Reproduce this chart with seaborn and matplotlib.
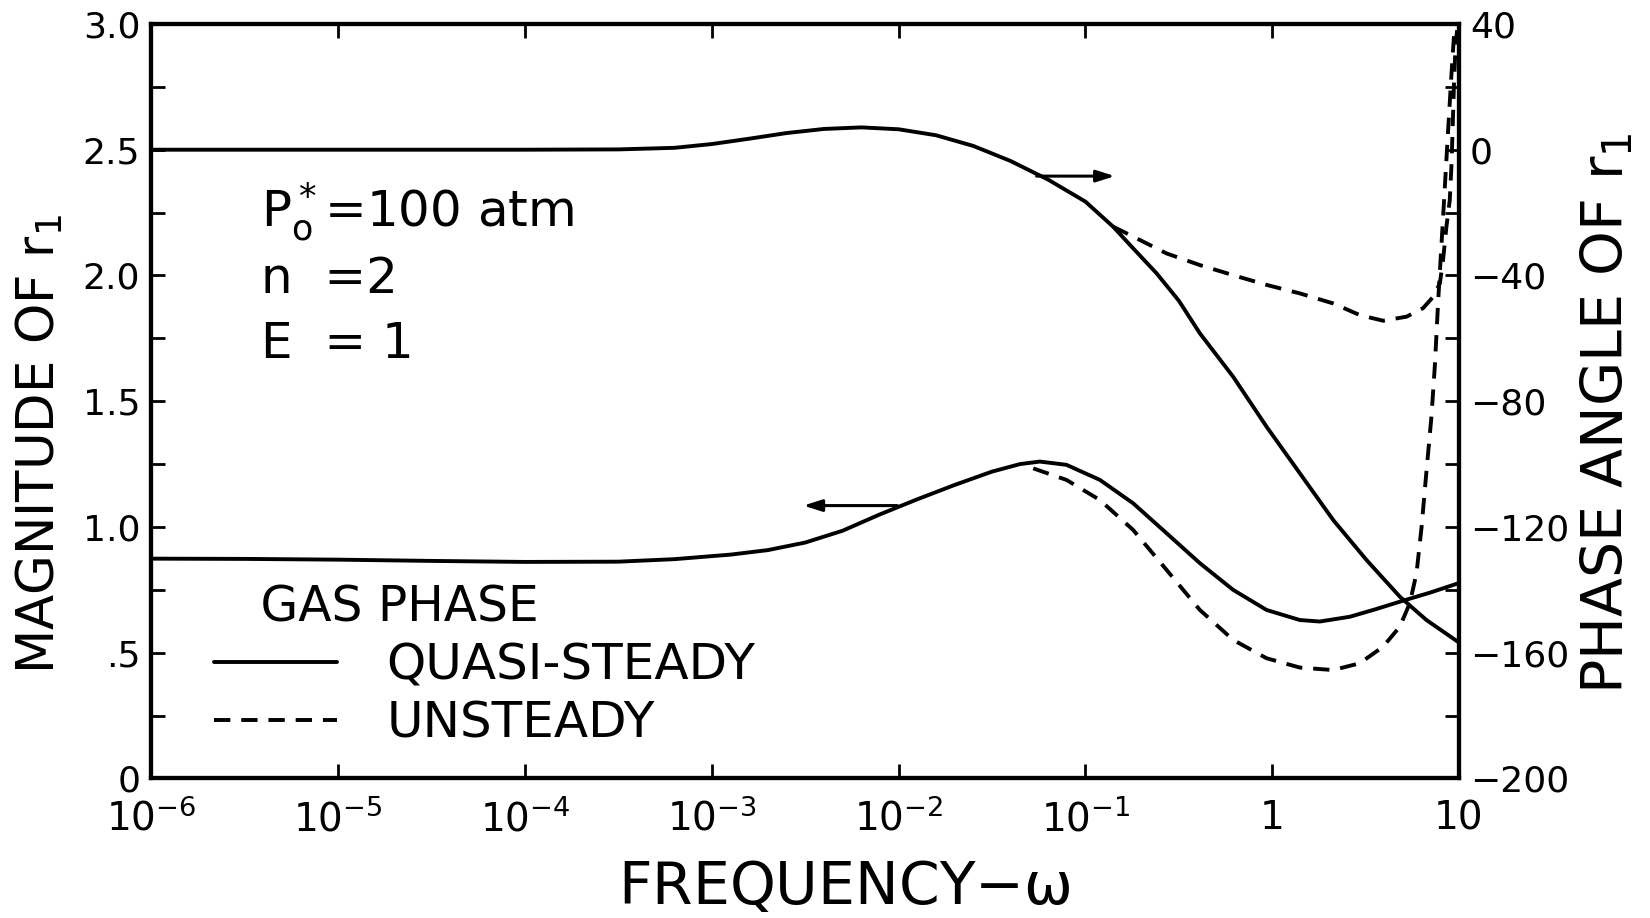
import numpy as np
import matplotlib
matplotlib.use("Agg")
import matplotlib.pyplot as plt
import seaborn as sns
from matplotlib.lines import Line2D
from matplotlib.ticker import FixedLocator, FixedFormatter, NullLocator, MultipleLocator

# ---------------- data ----------------
# quasi-steady magnitude  (log10 of frequency, magnitude)
qs_mag_logw = [-6.0, -5.5, -5.0, -4.5, -4.0, -3.5, -3.2, -2.9, -2.7, -2.5, -2.3, -2.1,
               -1.9, -1.7, -1.5, -1.35, -1.244, -1.101, -0.922, -0.744, -0.565, -0.387,
               -0.209, -0.03, 0.148, 0.255, 0.416, 0.55, 0.684, 0.85, 0.996]
qs_mag = [0.874, 0.873, 0.870, 0.865, 0.861, 0.862, 0.872, 0.890, 0.908, 0.938, 0.985, 1.050,
          1.110, 1.167, 1.220, 1.250, 1.260, 1.247, 1.187, 1.094, 0.975, 0.856,
          0.750, 0.670, 0.630, 0.624, 0.643, 0.672, 0.703, 0.740, 0.776]

# unsteady magnitude
us_mag_logw = [-1.279, -1.101, -0.922, -0.744, -0.565, -0.387, -0.209, -0.03, 0.148,
               0.327, 0.469, 0.594, 0.684, 0.737, 0.773, 0.80, 0.826, 0.853, 0.871,
               0.889, 0.915, 0.94, 0.96, 0.975]
us_mag = [1.233, 1.187, 1.107, 0.988, 0.829, 0.670, 0.551, 0.478, 0.441,
          0.431, 0.458, 0.524, 0.604, 0.697, 0.816, 1.00, 1.22, 1.44, 1.64,
          1.90, 2.23, 2.55, 2.80, 2.97]

# quasi-steady phase (deg)
qs_ph_logw = [-6.0, -5.0, -4.0, -3.5, -3.2, -3.0, -2.8, -2.6, -2.4, -2.2, -2.0, -1.8,
              -1.6, -1.4, -1.2, -1.0, -0.851, -0.75, -0.619, -0.5, -0.387, -0.209,
              -0.03, 0.148, 0.327, 0.505, 0.684, 0.826, 0.994]
qs_ph = [0.0, 0.0, 0.0, 0.1, 0.6, 1.8, 3.5, 5.3, 6.6, 7.1, 6.5, 4.6,
         1.2, -3.6, -9.5, -16.5, -24.5, -31.0, -39.3, -48.0, -58.4, -72.2,
         -88.1, -102.9, -117.8, -130.5, -142.2, -149.6, -156.5]

# unsteady phase (deg)
us_ph_logw = [-0.851, -0.779, -0.565, -0.387, -0.209, -0.03, 0.148, 0.327, 0.469, 0.594,
              0.72, 0.808, 0.862, 0.898, 0.915, 0.933, 0.951, 0.96, 0.967, 0.974,
              0.982, 0.99]
us_ph = [-24.5, -26.6, -33.0, -36.7, -39.9, -43.0, -45.7, -48.9, -52.6, -54.4,
         -53.1, -50.4, -46.8, -42.5, -35.1, -24.5, -16.0, -5.0, 8.0, 22.0,
         33.0, 38.0]

xtick_vals = [1e-6, 1e-5, 1e-4, 1e-3, 1e-2, 1e-1, 1, 10]
xtick_labels = [r'$\mathregular{10^{-6}}$', r'$\mathregular{10^{-5}}$', r'$\mathregular{10^{-4}}$',
                r'$\mathregular{10^{-3}}$', r'$\mathregular{10^{-2}}$', r'$\mathregular{10^{-1}}$',
                '1', '10']
ytick_vals = [0, 0.5, 1.0, 1.5, 2.0, 2.5, 3.0]
ytick_labels = ['0', '.5', '1.0', '1.5', '2.0', '2.5', '3.0']
y2tick_vals = [-200, -160, -120, -80, -40, 0, 40]
y2tick_labels = ['\u2212200', '\u2212160', '\u2212120', '\u221280', '\u221240', '0', '40']

# ---------------- style ----------------
sns.set_style("ticks")
plt.rcParams['font.family'] = ['DejaVu Sans']
plt.rcParams['mathtext.default'] = 'regular'
plt.rcParams['text.color'] = 'black'
plt.rcParams['xtick.color'] = 'black'
plt.rcParams['ytick.color'] = 'black'
plt.rcParams['xtick.labelcolor'] = 'black'
plt.rcParams['ytick.labelcolor'] = 'black'

LW = 2.8
DASH = (0, (4.2, 2.8))

fig = plt.figure(figsize=(16.5, 9.18), dpi=100)
ax = fig.add_axes([0.0918, 0.152, 0.7924, 0.8219])
ax2 = ax.twinx()

w = lambda lg: np.power(10.0, np.asarray(lg, dtype=float))

sns.lineplot(x=w(qs_mag_logw), y=qs_mag, ax=ax, color='black', lw=LW, estimator=None, sort=False)
sns.lineplot(x=w(us_mag_logw), y=us_mag, ax=ax, color='black', lw=LW, estimator=None, sort=False,
             linestyle=DASH)
sns.lineplot(x=w(qs_ph_logw), y=qs_ph, ax=ax2, color='black', lw=LW, estimator=None, sort=False)
sns.lineplot(x=w(us_ph_logw), y=us_ph, ax=ax2, color='black', lw=LW, estimator=None, sort=False,
             linestyle=DASH)
for a in (ax, ax2):
    for ln in a.lines:
        ln.set_solid_joinstyle('round')
        ln.set_dash_joinstyle('round')

ax.set_xscale('log')
ax.set_xlim(1e-6, 10)
ax.set_ylim(0, 3.0)
ax2.set_ylim(-200, 40)

ax.xaxis.set_major_locator(FixedLocator(xtick_vals))
ax.xaxis.set_major_formatter(FixedFormatter(xtick_labels))
ax.xaxis.set_minor_locator(NullLocator())
ax.yaxis.set_major_locator(FixedLocator(ytick_vals))
ax.yaxis.set_major_formatter(FixedFormatter(ytick_labels))
ax.yaxis.set_minor_locator(MultipleLocator(0.25))
ax2.yaxis.set_major_locator(FixedLocator(y2tick_vals))
ax2.yaxis.set_major_formatter(FixedFormatter(y2tick_labels))
ax2.yaxis.set_minor_locator(MultipleLocator(20))

ax.set_xlabel('')
ax.set_ylabel('')
ax2.set_ylabel('')

ax.tick_params(axis='x', which='both', direction='in', top=True, length=10, width=2,
               labelsize=28, pad=15, colors='black')
ax.tick_params(axis='y', which='both', direction='in', length=10, width=2,
               labelsize=26, pad=8, colors='black')
ax2.tick_params(axis='y', which='both', direction='in', length=10, width=2,
                labelsize=26, pad=8, colors='black')

for a in (ax, ax2):
    for s in a.spines.values():
        s.set_linewidth(3)
        s.set_color('black')

# arrows indicating which axis each curve belongs to
ax2.annotate('', xy=(10**-0.842, -8.4), xytext=(10**-1.261, -8.4),
             arrowprops=dict(arrowstyle='-|>,head_length=1.1,head_width=0.35',
                             color='black', lw=2.2, shrinkA=0, shrinkB=0))
ax.annotate('', xy=(10**-2.51, 1.085), xytext=(10**-2.007, 1.085),
            arrowprops=dict(arrowstyle='-|>,head_length=1.1,head_width=0.35',
                            color='black', lw=2.2, shrinkA=0, shrinkB=0))

# parameter annotations
ax.text(3.86e-6, 2.194, r'$\mathregular{P_o^*}$=100 atm', fontsize=36, va='baseline', color='black')
ax.text(3.86e-6, 1.929, 'n  =2', fontsize=36, va='baseline', color='black')
ax.text(3.86e-6, 1.671, 'E  = 1', fontsize=36, va='baseline', color='black')

# legend
handles = [Line2D([], [], color='black', lw=LW),
           Line2D([], [], color='black', lw=LW, linestyle=DASH)]
leg = ax.legend(handles, ['QUASI-STEADY', 'UNSTEADY'], title='   GAS PHASE',
                loc='upper left', bbox_to_anchor=(214 / 1650, 1 - 583 / 918),
                bbox_transform=fig.transFigure, frameon=False, fontsize=36,
                title_fontsize=35, handlelength=2.45, handletextpad=1.0,
                borderpad=0, borderaxespad=0, labelspacing=0.2)
leg._legend_box.align = 'left'
for t in leg.get_texts():
    t.set_color('black')
leg.get_title().set_color('black')

# axis labels
fig.text(0.0242, 0.5163, r'MAGNITUDE OF $\mathregular{r_1}$', rotation=90,
         ha='center', va='center', fontsize=37, color='black')
fig.text(0.9745, 0.55, r'PHASE ANGLE OF $\mathregular{r_1}$', rotation=90,
         ha='center', va='center', fontsize=41, color='black')
fig.text(0.5115, 0.0335, r'FREQUENCY$-\omega$', ha='center', va='center', fontsize=42,
         color='black')

fig.savefig('out.png', dpi=100, facecolor='white')
